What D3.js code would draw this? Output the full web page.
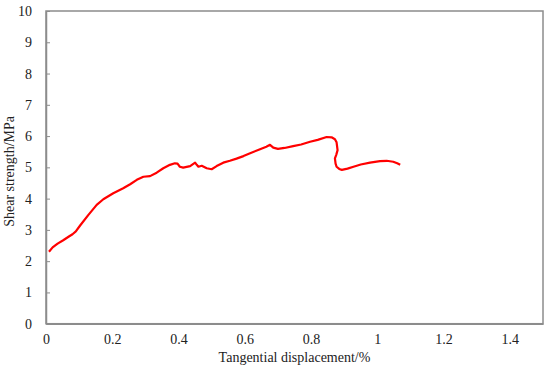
<!DOCTYPE html>
<html>
<head>
<meta charset="utf-8">
<script src="https://cdn.jsdelivr.net/npm/d3@7"></script>
<style>
  body { margin: 0; background: #fff; }
  svg text { font-family: "Liberation Serif", "Times New Roman", serif; fill: #222; }
</style>
</head>
<body>
<div id="chart"></div>
<script>
// displacement (%) and shear strength (MPa)
var disp = [0.009, 0.020, 0.035, 0.052, 0.068, 0.080, 0.090, 0.103, 0.128, 0.153, 0.173, 0.203,
            0.233, 0.254, 0.274, 0.294, 0.314, 0.334, 0.354, 0.374, 0.389, 0.397,
            0.404, 0.414, 0.435, 0.450, 0.455, 0.460, 0.470, 0.485, 0.500, 0.515,
            0.535, 0.555, 0.575, 0.596, 0.616, 0.646, 0.665, 0.676, 0.686, 0.700,
            0.720, 0.746, 0.770, 0.797, 0.820, 0.847, 0.862, 0.872, 0.877, 0.880,
            0.876, 0.872, 0.874, 0.877, 0.885, 0.893, 0.910, 0.928, 0.950, 0.978,
            1.008, 1.028, 1.048, 1.060, 1.069];
var shear = [2.30, 2.44, 2.56, 2.67, 2.78, 2.86, 2.95, 3.14, 3.48, 3.80, 3.98, 4.17,
             4.33, 4.46, 4.60, 4.70, 4.72, 4.83, 4.97, 5.08, 5.13, 5.12,
             5.02, 4.99, 5.04, 5.15, 5.08, 5.02, 5.05, 4.97, 4.94, 5.04,
             5.15, 5.21, 5.28, 5.36, 5.45, 5.58, 5.66, 5.72, 5.63, 5.59,
             5.62, 5.68, 5.73, 5.82, 5.88, 5.97, 5.96, 5.90, 5.80, 5.55,
             5.40, 5.29, 5.12, 5.02, 4.95, 4.92, 4.96, 5.02, 5.09, 5.15,
             5.20, 5.21, 5.18, 5.13, 5.08];
var xTicks = [0, 0.2, 0.4, 0.6, 0.8, 1, 1.2, 1.4];
var yTicks = [0, 1, 2, 3, 4, 5, 6, 7, 8, 9, 10];

var w = 550, h = 369;
var pl = 46, pr = 543, pt = 11, pb = 323.7;

var svg = d3.select("#chart")
  .append("svg")
  .attr("width", w)
  .attr("height", h);

var x = d3.scaleLinear().domain([0, 1.5]).range([pl, pr]);
var y = d3.scaleLinear().domain([0, 10]).range([pb, pt]);

// frame
svg.append("rect")
  .attr("x", pl).attr("y", pt)
  .attr("width", pr - pl).attr("height", pb - pt)
  .attr("fill", "none")
  .attr("stroke", "#8c8c8c")
  .attr("stroke-width", 1.5);

// y axis (ticks point inward)
var yAxis = svg.append("g")
  .attr("transform", "translate(" + pl + ",0)")
  .call(d3.axisLeft(y).tickValues(yTicks).tickSizeInner(-4).tickSizeOuter(0).tickPadding(14)
        .tickFormat(d3.format("d")));
yAxis.select(".domain").attr("stroke", "#8c8c8c").attr("stroke-width", 1.5);
yAxis.selectAll(".tick line").attr("stroke", "#8c8c8c");
yAxis.selectAll("text").attr("font-size", "14px").attr("fill", "#222")
  .style("font-family", "'Liberation Serif', serif");

// x axis
var xAxis = svg.append("g")
  .attr("transform", "translate(0," + pb + ")")
  .call(d3.axisBottom(x).tickValues(xTicks).tickSize(0).tickPadding(10)
        .tickFormat(function (d) { return String(+d.toFixed(1)); }));
xAxis.select(".domain").attr("stroke", "#8c8c8c").attr("stroke-width", 1.5);
xAxis.selectAll("text").attr("font-size", "14px").attr("fill", "#222")
  .style("font-family", "'Liberation Serif', serif");

// curve
var pts = disp.map(function (d, i) { return [d, shear[i]]; });
svg.append("path")
  .datum(pts)
  .attr("fill", "none")
  .attr("stroke", "#ff0000")
  .attr("stroke-width", 2.2)
  .attr("stroke-linejoin", "round")
  .attr("d", d3.line()
    .x(function (d) { return x(d[0]); })
    .y(function (d) { return y(d[1]); }));

// titles
svg.append("text")
  .attr("x", (pl + pr) / 2)
  .attr("y", 362)
  .attr("text-anchor", "middle")
  .attr("font-size", "14px")
  .text("Tangential displacement/%");

svg.append("text")
  .attr("transform", "translate(14," + ((pt + pb) / 2 + 4) + ") rotate(-90)")
  .attr("text-anchor", "middle")
  .attr("font-size", "14px")
  .text("Shear strength/MPa");
</script>
</body>
</html>
